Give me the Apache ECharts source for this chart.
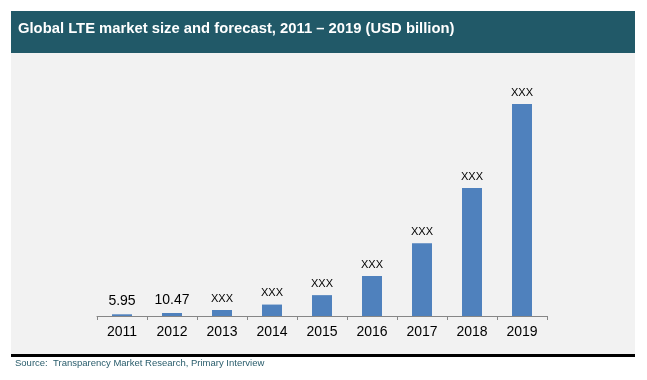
<!DOCTYPE html>
<html>
<head>
<meta charset="utf-8">
<script src="https://cdn.jsdelivr.net/npm/echarts@6/dist/echarts.min.js"></script>
<style>html,body{margin:0;padding:0;background:#fff;}#c{width:647px;height:380px;}</style>
</head>
<body>
<div id="c"></div>
<script>
const categories = ['2011','2012','2013','2014','2015','2016','2017','2018','2019'];
const values = [5.95, 10.47, 21, 40, 73, 140, 255, 448, 742];
const labels = ['5.95','10.47','XXX','XXX','XXX','XXX','XXX','XXX','XXX'];

const chart = echarts.init(document.getElementById('c'), null, {renderer:'canvas'});
chart.setOption({
  animation: false,
  backgroundColor: '#ffffff',
  graphic: [
    {type:'rect', shape:{x:11,y:53,width:624,height:301}, style:{fill:'#f2f2f2'}, z:-10},
    {type:'rect', shape:{x:11,y:11,width:624,height:42}, style:{fill:'#215968'}, z:-10},
    {type:'rect', shape:{x:11,y:354,width:624,height:3}, style:{fill:'#000000'}, z:-10},
    {type:'text', left:18, top:21, style:{text:'Global LTE market size and forecast, 2011 – 2019 (USD billion)', fill:'#ffffff', font:'bold 14.8px Arial, "Liberation Sans", sans-serif'}},
    {type:'text', left:15, top:358, style:{text:'Source:  Transparency Market Research, Primary Interview', fill:'#2a5d6c', font:'9.5px Arial, "Liberation Sans", sans-serif'}}
  ],
  grid: {left:97, right:100, top:76, bottom:64, containLabel:false},
  xAxis: {
    type:'category', data:categories,
    axisLine:{lineStyle:{color:'#868686', width:1}},
    axisTick:{show:true, length:4, lineStyle:{color:'#868686'}},
    axisLabel:{color:'#000', fontSize:14, fontFamily:'Arial, "Liberation Sans", sans-serif', margin:9}
  },
  yAxis: {type:'value', min:0, max:840, show:false, splitLine:{show:false}},
  series: [{
    type:'bar', data: values.map((v,i)=>({value:v, label:{formatter:labels[i], fontSize: i<2?14:11}})),
    barWidth:20,
    itemStyle:{color:'#4f81bd'},
    label:{show:true, position:'top', distance:6, color:'#000', fontFamily:'Arial, "Liberation Sans", sans-serif'}
  }]
});
</script>
</body>
</html>
